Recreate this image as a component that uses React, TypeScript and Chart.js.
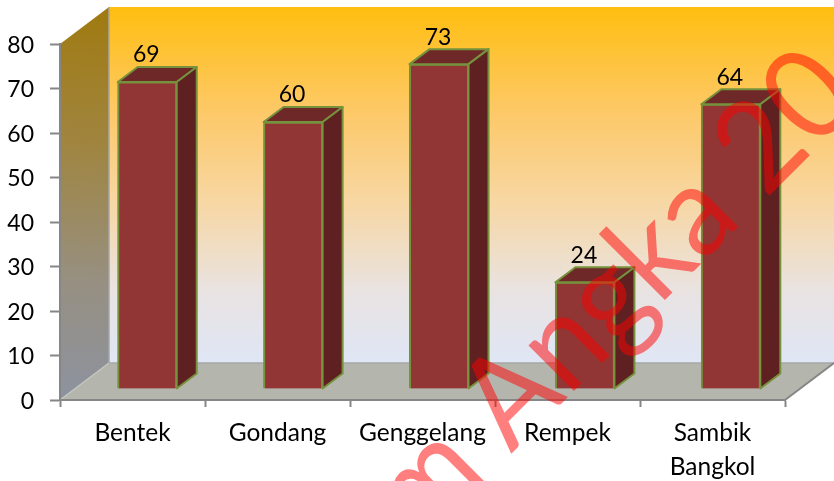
import React, { useEffect, useRef } from "react";
import { Chart, registerables } from "chart.js";

Chart.register(...registerables);

const categories: (string | string[])[] = ["Bentek", "Gondang", "Genggelang", "Rempek", ["Sambik", "Bangkol"]];
const values = [69, 60, 73, 24, 64];
const yTicks = [0, 10, 20, 30, 40, 50, 60, 70, 80];
const watermarkBefore = "Dalam ";
const watermarkAfter = "Angka 20";

const FONT = "Lato";
const GREY = "#868686";
const DX = 49, DY = 37;      // wall depth
const KX = 1.0062, BX = 13.9, BY = 11; // bar plane relative to the front edge
const SX = 20, SY = 15;      // bar depth

const scene = {
  id: "scene",
  beforeDraw(chart: any) {
    const { ctx, chartArea: a } = chart;
    const top = a.top - DY, bot = a.bottom - DY;
    ctx.save();
    const g = ctx.createLinearGradient(0, top, 0, bot);
    g.addColorStop(0, "#ffbe10");
    g.addColorStop(0.3, "#fdc969");
    g.addColorStop(0.55, "#f7d7a4");
    g.addColorStop(0.8, "#e9e3e2");
    g.addColorStop(1, "#dfe6f5");
    ctx.fillStyle = g;
    ctx.fillRect(a.left + DX, top, a.right - a.left, a.bottom - a.top);
    const l = ctx.createLinearGradient(a.left + 30, top, a.left + 10, a.bottom);
    l.addColorStop(0, "#a07a10");
    l.addColorStop(0.35, "#a08540");
    l.addColorStop(0.7, "#979082");
    l.addColorStop(1, "#8c929f");
    ctx.fillStyle = l;
    ctx.beginPath();
    ctx.moveTo(a.left, a.top);
    ctx.lineTo(a.left + DX, top);
    ctx.lineTo(a.left + DX, bot);
    ctx.lineTo(a.left, a.bottom);
    ctx.closePath();
    ctx.fill();
    ctx.fillStyle = "#b4b6ae";
    ctx.beginPath();
    ctx.moveTo(a.left, a.bottom);
    ctx.lineTo(a.left + DX, bot);
    ctx.lineTo(a.right + DX, bot);
    ctx.lineTo(a.right, a.bottom);
    ctx.closePath();
    ctx.fill();
    ctx.strokeStyle = "#a6a6a6";
    ctx.lineWidth = 1.5;
    ctx.beginPath();
    ctx.moveTo(a.left + DX, top);
    ctx.lineTo(a.left + DX, bot);
    ctx.lineTo(a.right + DX, bot);
    ctx.stroke();
    ctx.beginPath();
    ctx.moveTo(a.left, a.bottom);
    ctx.lineTo(a.left + DX, bot);
    ctx.strokeStyle = "#c4c6be";
    ctx.stroke();
    ctx.strokeStyle = GREY;
    ctx.lineWidth = 2;
    ctx.beginPath();
    ctx.moveTo(a.right, a.bottom);
    ctx.lineTo(a.right + DX, bot);
    ctx.stroke();
    ctx.restore();
  },
  beforeDatasetDraw(chart: any) {
    chart.ctx.save();
    chart.ctx.transform(KX, 0, 0, 1, BX, -BY);
  },
  afterDatasetDraw(chart: any, args: any) {
    const { ctx } = chart;
    ctx.restore();
    ctx.save();
    ctx.lineWidth = 2;
    ctx.strokeStyle = "#76923c";
    ctx.lineJoin = "round";
    args.meta.data.forEach((bar: any, i: number) => {
      const half = bar.width / 2;
      const cx = bar.x * KX + BX;
      const x0 = cx - half, x1 = cx + half;
      const yt = bar.y - BY, yb = bar.base - BY;
      ctx.fillStyle = "#6f2828";
      ctx.beginPath();
      ctx.moveTo(x0, yt);
      ctx.lineTo(x0 + SX, yt - SY);
      ctx.lineTo(x1 + SX, yt - SY);
      ctx.lineTo(x1, yt);
      ctx.closePath();
      ctx.fill();
      ctx.stroke();
      ctx.fillStyle = "#5f2021";
      ctx.beginPath();
      ctx.moveTo(x1, yt);
      ctx.lineTo(x1 + SX, yt - SY);
      ctx.lineTo(x1 + SX, yb - SY);
      ctx.lineTo(x1, yb);
      ctx.closePath();
      ctx.fill();
      ctx.stroke();
      ctx.fillStyle = "#000";
      ctx.font = `23px ${FONT}`;
      ctx.textAlign = "center";
      ctx.textBaseline = "middle";
      ctx.fillText(String(values[i]), cx - 1, yt - 27);
    });
    ctx.restore();
  },
  afterDraw(chart: any) {
    const { ctx } = chart;
    ctx.save();
    ctx.translate(511, 454);
    ctx.rotate(-Math.PI / 4);
    ctx.scale(0.94, 1);
    ctx.font = `127px "Lato"`;
    ctx.fillStyle = "rgba(255,0,0,0.5)";
    ctx.textAlign = "left";
    ctx.textBaseline = "alphabetic";
    const w = ctx.measureText(watermarkBefore).width;
    ctx.fillText(watermarkBefore + watermarkAfter, -w, 0);
    ctx.restore();
  },
};

export default function App() {
  const ref = useRef<HTMLCanvasElement>(null);
  useEffect(() => {
    const chart = new Chart(ref.current!, {
      type: "bar",
      data: {
        labels: categories as any,
        datasets: [
          {
            data: values,
            backgroundColor: "#923535",
            borderColor: "#76923c",
            borderWidth: 2,
            barThickness: 59,
            clip: false as any,
          },
        ],
      },
      plugins: [scene],
      options: {
        animation: false,
        responsive: false,
        layout: { padding: { top: 44, right: 49, left: 0, bottom: 0 } },
        plugins: { legend: { display: false }, tooltip: { enabled: false } },
        scales: {
          x: {
            afterFit: (s: any) => { s.height = 81; },
            border: { color: GREY, width: 2 },
            grid: { drawOnChartArea: false, tickLength: 7, tickColor: GREY, tickWidth: 2 },
            ticks: { color: "#000", font: { family: FONT, size: 24.5, lineHeight: 1.39 }, padding: 9, maxRotation: 0, autoSkip: false },
          },
          y: {
            min: yTicks[0],
            max: yTicks[yTicks.length - 1],
            afterFit: (s: any) => { s.width = 60; },
            border: { color: GREY, width: 2 },
            grid: { drawOnChartArea: false, tickLength: 10, tickColor: GREY, tickWidth: 2 },
            ticks: { color: "#000", font: { family: FONT, size: 23 }, padding: 16, stepSize: 10, labelOffset: 1.5 },
          },
        },
      },
    } as any);
    return () => chart.destroy();
  }, []);
  return (
    <div style={{ position: "absolute", left: 0, top: 0, width: 834, height: 481, background: "#fff", overflow: "hidden" }}>
      <canvas ref={ref} width={834} height={481} style={{ display: "block" }} />
    </div>
  );
}
